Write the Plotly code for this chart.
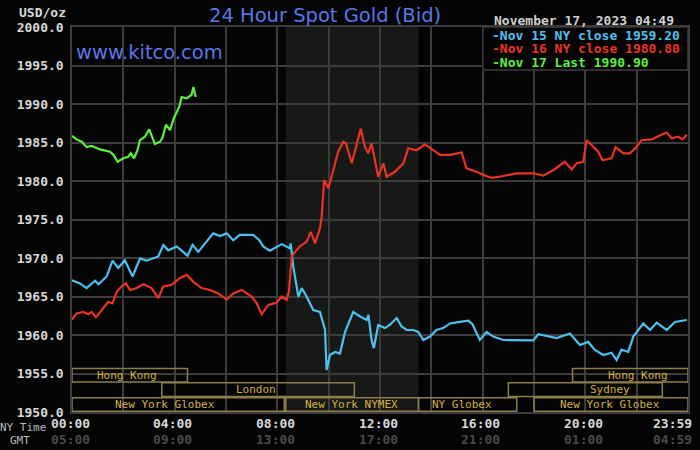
import plotly.graph_objects as go

# --- data (hours after midnight NY time, price USD/oz) ---
nov15_hours = [0, 0.31, 0.57, 0.9, 1.03, 1.35, 1.58, 1.8, 2.06, 2.36, 2.65, 2.91, 3.36, 3.56, 3.75,
               4.08, 4.5, 4.7, 4.92, 5.25, 5.5, 5.77, 6.03, 6.28, 6.54, 7.06, 7.3, 7.45, 7.71, 8.17,
               8.49, 8.52, 8.62, 8.82, 8.95, 9.14, 9.4, 9.66, 9.86, 9.92, 10.05, 10.25, 10.44, 10.64,
               10.96, 11.22, 11.48, 11.55, 11.67, 11.76, 11.93, 12.19, 12.38, 12.65, 12.84, 13.04,
               13.3, 13.49, 13.69, 13.95, 14.2, 14.46, 14.73, 15.11, 15.44, 15.6, 15.89, 16.15, 16.41,
               16.8, 17.32, 17.97, 18.17, 18.49, 18.88, 19.4, 19.79, 20.11, 20.37, 20.7, 21.02, 21.22,
               21.41, 21.67, 21.87, 22.26, 22.52, 22.78, 23.17, 23.49, 23.95]
nov15_price = [1967.1, 1966.7, 1966.1, 1967.05, 1966.6, 1967.6, 1969.65, 1968.7, 1969.7, 1967.6,
               1969.95, 1969.65, 1970.2, 1971.7, 1971.0, 1971.5, 1970.3, 1971.7, 1970.8, 1972.1,
               1973.2, 1972.85, 1973.2, 1972.3, 1973.0, 1973.0, 1972.3, 1971.5, 1970.95, 1971.8,
               1971.25, 1971.9, 1968.9, 1964.95, 1966.1, 1965.0, 1963.25, 1963.0, 1960.65, 1955.45,
               1957.4, 1957.8, 1957.6, 1960.4, 1963.0, 1962.4, 1961.95, 1962.6, 1959.35, 1958.3,
               1961.3, 1960.9, 1961.3, 1962.2, 1961.1, 1960.65, 1960.65, 1960.4, 1959.35, 1959.8,
               1960.65, 1960.9, 1961.5, 1961.7, 1961.85, 1961.4, 1959.35, 1960.4, 1959.8, 1959.35,
               1959.3, 1959.3, 1960.1, 1959.9, 1959.6, 1960.2, 1958.7, 1959.1, 1958.05, 1957.4,
               1957.7, 1956.75, 1958.1, 1957.8, 1959.8, 1961.5, 1960.65, 1961.6, 1960.65, 1961.7,
               1961.95]

nov16_hours = [0, 0.18, 0.44, 0.64, 0.77, 0.93, 1.16, 1.41, 1.58, 1.74, 1.93, 2.1, 2.26, 2.52, 2.78,
               3.1, 3.36, 3.56, 3.88, 4.21, 4.47, 4.73, 5.05, 5.38, 5.7, 6.03, 6.28, 6.61, 7.0, 7.2,
               7.39, 7.65, 7.97, 8.17, 8.36, 8.45, 8.56, 8.69, 8.88, 9.14, 9.3, 9.47, 9.66, 9.73, 9.82,
               9.99, 10.18, 10.37, 10.57, 10.67, 10.9, 11.11, 11.25, 11.41, 11.54, 11.67, 11.8, 11.93,
               12.13, 12.26, 12.58, 12.91, 13.1, 13.43, 13.75, 14.08, 14.34, 14.73, 15.18, 15.37,
               15.76, 16.1, 16.35, 16.8, 17.32, 17.97, 18.36, 18.75, 19.2, 19.47, 19.66, 19.92, 20.05,
               20.31, 20.5, 20.67, 21.02, 21.18, 21.48, 21.74, 22.0, 22.19, 22.58, 22.84, 23.17,
               23.36, 23.62, 23.79, 23.95]
nov16_price = [1962.0, 1962.8, 1963.0, 1962.7, 1963.0, 1962.3, 1963.25, 1964.3, 1964.1, 1965.6,
               1966.3, 1966.7, 1965.85, 1966.1, 1966.6, 1966.1, 1964.8, 1966.3, 1966.5, 1967.4,
               1967.8, 1966.9, 1966.1, 1965.85, 1965.4, 1964.6, 1965.4, 1965.85, 1965.0, 1964.1,
               1962.7, 1963.9, 1964.2, 1965.0, 1964.55, 1965.6, 1970.2, 1970.8, 1971.5, 1972.1,
               1973.4, 1971.9, 1973.85, 1975.4, 1980.1, 1979.05, 1981.4, 1983.8, 1985.1, 1984.9,
               1982.3, 1985.1, 1986.8, 1984.45, 1983.6, 1984.9, 1982.7, 1980.55, 1982.3, 1980.55,
               1981.2, 1982.3, 1984.25, 1984.0, 1984.75, 1984.0, 1983.4, 1983.4, 1983.7, 1981.65,
               1981.2, 1980.7, 1980.4, 1980.65, 1981.0, 1981.0, 1980.7, 1981.4, 1982.5, 1981.5,
               1982.3, 1982.5, 1985.3, 1984.45, 1983.8, 1982.7, 1982.95, 1984.4, 1983.6, 1983.6,
               1984.45, 1985.3, 1985.4, 1985.8, 1986.3, 1985.55, 1985.75, 1985.4, 1986.0]

nov17_hours = [0, 0.18, 0.38, 0.57, 0.77, 1.09, 1.48, 1.61, 1.78, 2.0, 2.19, 2.29, 2.42, 2.55, 2.65,
               2.84, 3.01, 3.23, 3.43, 3.53, 3.66, 3.82, 3.95, 4.18, 4.27, 4.47, 4.66, 4.73, 4.82]
nov17_price = [1985.85, 1985.4, 1985.1, 1984.4, 1984.55, 1984.1, 1983.8, 1983.4, 1982.5, 1982.95,
               1983.15, 1983.6, 1982.95, 1984.0, 1985.3, 1985.75, 1986.7, 1984.8, 1985.1, 1985.65,
               1987.3, 1986.6, 1988.0, 1989.65, 1990.9, 1990.75, 1991.2, 1992.2, 1990.9]

legend_labels = ["-Nov 15 NY close 1959.20", "-Nov 16 NY close 1980.80", "-Nov 17 Last 1990.90"]

ny_ticks = [0, 4, 8, 12, 16, 20, 23.98]
ny_labels = ["00:00", "04:00", "08:00", "12:00", "16:00", "20:00", "23:59"]
gmt_labels = ["05:00", "09:00", "13:00", "17:00", "21:00", "01:00", "04:59"]

# market sessions: name, start hour, end hour, row (0 = bottom)
session_names = ["Hong Kong", "London", "New York Globex", "New York NYMEX", "NY Globex",
                 "New York Globex", "Sydney", "Hong Kong"]
session_start = [0, 3.5, 0, 8.33, 13.5, 18.0, 17.0, 19.5]
session_end = [4.5, 11.0, 8.27, 13.5, 17.33, 24.0, 23.0, 24.0]
session_row = [2, 1, 0, 0, 0, 0, 1, 2]
session_label_at = [2.13, 7.16, 3.62, 10.87, 15.18, 20.96, 20.96, 22.06]

nymex_open = (8.33, 13.5)

BLUE = "#4ec1f0"
RED = "#ea3323"
GREEN = "#5cf03c"
GRID = "#3c3c3c"
GOLD_TXT = "#d6b23e"
GOLD_BOX = "#8c7f4b"
MONO = "DejaVu Sans Mono"
SANS = "DejaVu Sans"

fig = go.Figure()
for hrs, px_, col, nm in [(nov15_hours, nov15_price, BLUE, "Nov 15"),
                          (nov16_hours, nov16_price, RED, "Nov 16"),
                          (nov17_hours, nov17_price, GREEN, "Nov 17")]:
    fig.add_trace(go.Scatter(x=hrs, y=px_, mode="lines", name=nm,
                             line=dict(color=col, width=2.2)))

shapes = []
# NYMEX hours shading
shapes.append(dict(type="rect", xref="x", yref="paper", x0=nymex_open[0], x1=nymex_open[1],
                   y0=0, y1=1, fillcolor="#161916", line=dict(width=0), layer="below"))

row_y = {0: (0.002, 0.037), 1: (0.040, 0.076), 2: (0.078, 0.113)}
annotations = []
for name, s, e, r, lx in zip(session_names, session_start, session_end, session_row, session_label_at):
    y0, y1 = row_y[r]
    shapes.append(dict(type="rect", xref="x", yref="paper", x0=s, x1=e, y0=y0, y1=y1,
                       line=dict(color=GOLD_BOX, width=1.5), fillcolor="rgba(0,0,0,0)", layer="above"))
    annotations.append(dict(x=lx, y=(y0 + y1) / 2, xref="x", yref="paper", text=name,
                            showarrow=False, xanchor="center", yanchor="middle",
                            font=dict(family=MONO, size=11, color=GOLD_TXT)))

# legend box
shapes.append(dict(type="rect", xref="paper", yref="paper", x0=0.667, x1=1.0, y0=0.888, y1=1.0,
                   fillcolor="#040404", line=dict(color=GRID, width=1.5), layer="above"))
for lbl, col, yy in zip(legend_labels, [BLUE, RED, GREEN], [0.979, 0.943, 0.907]):
    annotations.append(dict(x=0.6786, y=yy, xref="paper", yref="paper", text=lbl, showarrow=False,
                            xanchor="left", yanchor="middle",
                            font=dict(family=MONO, size=13, color=col, weight="bold")))

# x labels (NY time and GMT)
for h, ny, gmt in zip(ny_ticks, ny_labels, gmt_labels):
    anchor = "right" if h > 23 else "center"
    shift = 7 if h > 23 else -2
    annotations.append(dict(x=h, y=-0.029, xref="x", yref="paper", text=ny, showarrow=False,
                            xanchor=anchor, yanchor="middle", xshift=shift,
                            font=dict(family=MONO, size=13, color="#d8d8d8", weight="bold")))
    annotations.append(dict(x=h, y=-0.071, xref="x", yref="paper", text=gmt, showarrow=False,
                            xanchor=anchor, yanchor="middle", xshift=shift,
                            font=dict(family=MONO, size=13, color="#4a4a4a", weight="bold")))

annotations += [
    dict(x=-0.0385, y=-0.040, xref="paper", yref="paper", text="NY Time", showarrow=False,
         xanchor="right", yanchor="middle", font=dict(family=MONO, size=11, color="#b8b8b8")),
    dict(x=-0.0844, y=-0.073, xref="paper", yref="paper", text="GMT", showarrow=False,
         xanchor="center", yanchor="middle", font=dict(family=MONO, size=11, color="#b8b8b8")),
    dict(x=-0.0476, y=1.037, xref="paper", yref="paper", text="USD/oz", showarrow=False,
         xanchor="center", yanchor="middle",
         font=dict(family=MONO, size=13, color="#d8d8d8", weight="bold")),
    dict(x=0.411, y=1.03, xref="paper", yref="paper", text="24 Hour Spot Gold (Bid)",
         showarrow=False, xanchor="center", yanchor="middle",
         font=dict(family=SANS, size=19.5, color="#5877e8")),
    dict(x=0.003, y=0.935, xref="paper", yref="paper", text="www.kitco.com", showarrow=False,
         xanchor="left", yanchor="middle",
         font=dict(family=SANS, size=19.5, color="#5877e8")),
    dict(x=0.9805, y=1.018, xref="paper", yref="paper", text="November 17, 2023 04:49",
         showarrow=False, xanchor="right", yanchor="middle",
         font=dict(family=MONO, size=13, color="#d0d0d0", weight="bold")),
]

fig.update_layout(
    width=700, height=450,
    margin=dict(l=72, r=12, t=27, b=38, autoexpand=False),
    paper_bgcolor="#040404", plot_bgcolor="#040404",
    showlegend=False,
    shapes=shapes, annotations=annotations,
    xaxis=dict(range=[0, 24], tickvals=list(range(0, 24, 2)), showticklabels=False,
               showgrid=True, gridcolor=GRID, gridwidth=1.5, zeroline=False,
               showline=True, linecolor=GRID, linewidth=1.5, mirror=True, ticks=""),
    yaxis=dict(range=[1950, 2000], dtick=5, tickformat=".1f", showgrid=True, gridcolor=GRID,
               gridwidth=1.5, zeroline=False, showline=True, linecolor=GRID, linewidth=1.5,
               mirror=True, ticks="", ticklabelstandoff=4,
               tickfont=dict(family=MONO, size=13, color="#d8d8d8", weight="bold")),
)

fig.write_html("out.html", config={"displayModeBar": False},
               post_script="document.body.style.margin='0';document.body.style.background='#040404';")
